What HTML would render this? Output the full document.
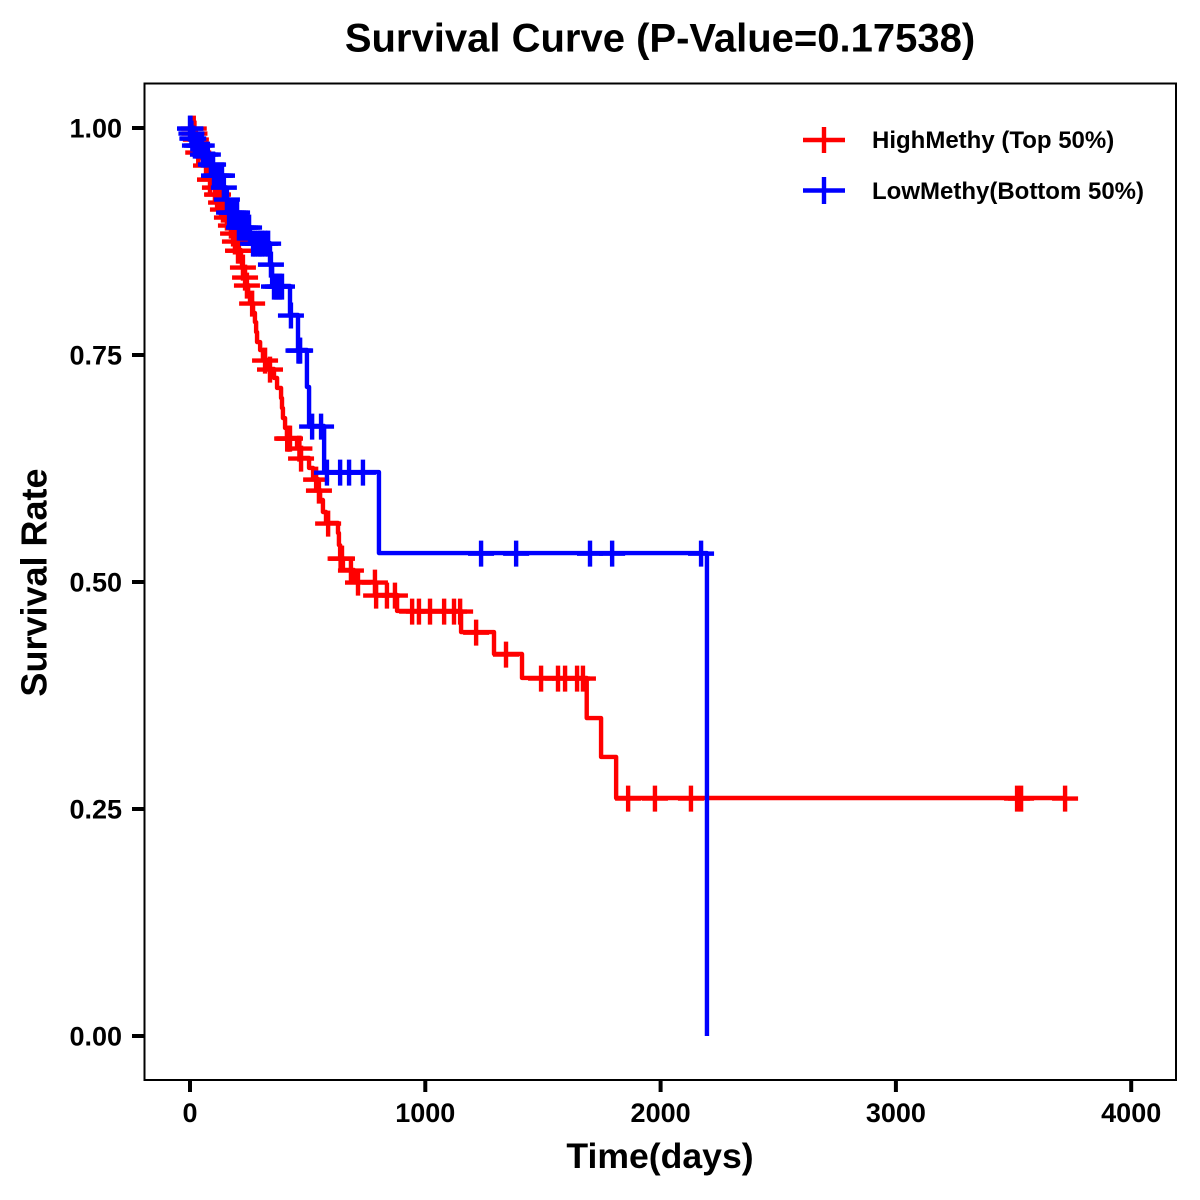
<!DOCTYPE html>
<html>
<head>
<meta charset="utf-8">
<title>Survival Curve</title>
<style>
html,body{margin:0;padding:0;background:#fff;}
svg{display:block;}
text{font-family:"Liberation Sans",Arial,sans-serif;font-weight:bold;fill:#000;}
</style>
</head>
<body>
<svg id="chart" xmlns="http://www.w3.org/2000/svg" width="1200" height="1200" viewBox="0 0 1200 1200">
<rect x="0" y="0" width="1200" height="1200" fill="#fff"/>
<text x="660" y="51.500" font-size="40" text-anchor="middle">Survival Curve (P-Value=0.17538)</text>
<text x="660" y="1168" font-size="35.600" text-anchor="middle">Time(days)</text>
<text transform="translate(46.5,582.5) rotate(-90)" font-size="36" text-anchor="middle">Survival Rate</text>
<g id="plot"></g>
<rect x="144.5" y="83.5" width="1031.5" height="996.5" fill="none" stroke="#000" stroke-width="2"/>
<g id="axes"></g>
<g>
<g>
<path d="M803 140H845M824 127V153" stroke="#f00" stroke-width="4.400" fill="none"/>
<text x="872" y="148" font-size="24">HighMethy (Top 50%)</text>
</g>
<g>
<path d="M803 190.500H845M824 177V204" stroke="#00f" stroke-width="4.400" fill="none"/>
<text x="872" y="199" font-size="24">LowMethy(Bottom 50%)</text>
</g>
</g>
</svg>
<script>
const xTicks = [0, 1000, 2000, 3000, 4000];
const yTicks = [0, 0.25, 0.5, 0.75, 1];
const yTickLabels = ['0.00', '0.25', '0.50', '0.75', '1.00'];

const highTimes = [0,18,21,30,34,47,64,72,81,98,111,128,136,149,166,179,187,196,217,221,230,238,247,255,268,276,281,285,298,310,332,357,370,387,391,395,404,412,455,469,506,523,544,553,565,578,629,633,638,650,697,788,880,1152,1292,1411,1686,1747,1811,3719];
const highSurvival = [1,0.9945,0.9879,0.9813,0.9736,0.9670,0.9593,0.9515,0.9438,0.9350,0.9273,0.9185,0.9108,0.9020,0.8932,0.8844,0.8756,0.8656,0.8568,0.8469,0.8359,0.8271,0.8172,0.8073,0.7963,0.7863,0.7753,0.7643,0.7555,0.7445,0.7346,0.7247,0.7137,0.7026,0.6916,0.6806,0.6696,0.6586,0.6476,0.6366,0.6256,0.6134,0.6013,0.5903,0.5771,0.5650,0.5540,0.5407,0.5264,0.5132,0.5000,0.4857,0.4681,0.4449,0.4207,0.3943,0.3502,0.3073,0.2621,0.2621];
const highCensored = [16,19,25,35,68,85,106,115,119,132,140,157,174,183,191,204,208,225,234,242,264,319,340,413,417,421,425,465,472,536,548,587,640,646,684,714,786,791,837,871,944,973,1020,1080,1122,1148,1216,1343,1492,1564,1594,1645,1670,1862,1976,2129,3515,3532,3719];

const lowTimes = [0,4,8,18,52,85,100,140,150,162,204,255,340,349,425,459,497,506,570,803,2197];
const lowSurvival = [1,0.9945,0.9890,0.9813,0.9714,0.9604,0.9482,0.9350,0.9218,0.9075,0.8910,0.8733,0.8502,0.8260,0.7941,0.7555,0.7148,0.6718,0.6211,0.5319,0];
const lowCensored = [0,2,6,10,14,21,30,40,50,55,65,76,89,93,98,102,111,120,128,136,144,157,166,175,183,192,200,208,217,225,234,242,251,268,276,289,298,306,319,332,344,357,365,374,382,391,429,461,465,468,519,557,582,638,676,735,1237,1386,1700,1794,2172];

const NS = 'http://www.w3.org/2000/svg';
const xScale = t => 190 + t * 0.2353;
const yScale = s => 1036 - s * 908;
const plot = document.getElementById('plot');
const axes = document.getElementById('axes');

function survivalAt(times, surv, t) {
  let v = surv[0];
  for (let i = 0; i < times.length; i++) { if (times[i] <= t) v = surv[i]; }
  return v;
}

function drawSeries(times, surv, censored, color) {
  let d = 'M' + xScale(times[0]).toFixed(2) + ' ' + yScale(surv[0]).toFixed(2);
  for (let i = 1; i < times.length; i++) {
    d += 'H' + xScale(times[i]).toFixed(2) + 'V' + yScale(surv[i]).toFixed(2);
  }
  const line = document.createElementNS(NS, 'path');
  
  
  line.setAttribute('d', d);
  line.setAttribute('fill', 'none');
  line.setAttribute('stroke', color);
  line.setAttribute('stroke-width', '4.4');
  line.setAttribute('stroke-linejoin', 'round');
  plot.appendChild(line);
  censored.forEach(t => {
    const cx = xScale(t);
    const cy = yScale(survivalAt(times, surv, t)) + 0.6;
    const mark = document.createElementNS(NS, 'path');
    
    
    mark.setAttribute('d', 'M' + (cx - 13).toFixed(2) + ' ' + cy.toFixed(2) + 'H' + (cx + 13).toFixed(2) + 'M' + cx.toFixed(2) + ' ' + (cy - 13).toFixed(2) + 'V' + (cy + 13).toFixed(2));
    mark.setAttribute('fill', 'none');
    mark.setAttribute('stroke', color);
    mark.setAttribute('stroke-width', '4.4');
    plot.appendChild(mark);
  });
}

drawSeries(highTimes, highSurvival, highCensored, '#ff0000');
drawSeries(lowTimes, lowSurvival, lowCensored, '#0000ff');

xTicks.forEach(v => {
  const x = xScale(v);
  const tick = document.createElementNS(NS, 'line');
  
  
  tick.setAttribute('x1', x); tick.setAttribute('x2', x);
  tick.setAttribute('y1', 1081); tick.setAttribute('y2', 1092);
  tick.setAttribute('stroke', '#000'); tick.setAttribute('stroke-width', '4');
  axes.appendChild(tick);
  const label = document.createElementNS(NS, 'text');
  
  
  label.setAttribute('x', x); label.setAttribute('y', 1122);
  label.setAttribute('font-size', '27');
  label.setAttribute('text-anchor', 'middle');
  label.textContent = String(v);
  axes.appendChild(label);
});

yTicks.forEach((v, i) => {
  const y = yScale(v);
  const tick = document.createElementNS(NS, 'line');
  
  
  tick.setAttribute('x1', 132); tick.setAttribute('x2', 144);
  tick.setAttribute('y1', y); tick.setAttribute('y2', y);
  tick.setAttribute('stroke', '#000'); tick.setAttribute('stroke-width', '4');
  axes.appendChild(tick);
  const label = document.createElementNS(NS, 'text');
  
  
  label.setAttribute('x', 122); label.setAttribute('y', y + 9.5);
  label.setAttribute('font-size', '27');
  label.setAttribute('text-anchor', 'end');
  label.textContent = yTickLabels[i];
  axes.appendChild(label);
});
</script>
</body>
</html>
